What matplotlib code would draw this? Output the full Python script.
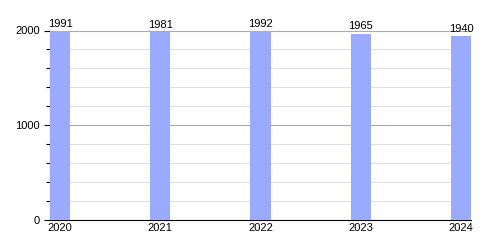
import matplotlib
matplotlib.use("Agg")
import matplotlib.pyplot as plt
from matplotlib.ticker import MultipleLocator

years = ["2020", "2021", "2022", "2023", "2024"]
values = [1991, 1981, 1992, 1965, 1940]

plt.rcParams['font.family'] = ['Liberation Sans', 'DejaVu Sans']
fig = plt.figure(figsize=(5, 2.5), dpi=100)
ax = fig.add_axes([0.1, 0.12, 0.842, 0.758])
x = list(range(len(years)))
ax.bar(x, values, width=0.2, color="#99aaff", zorder=3)
for xi, v in zip(x, values):
    ax.text(xi, v + 25, str(v), ha="center", va="bottom", fontsize=8, color="black")
ax.set_xlim(-0.1, 4.1)
ax.set_ylim(0, 2000)
ax.set_xticks(x)
ax.set_xticklabels(years, fontsize=8)
ax.yaxis.set_major_locator(MultipleLocator(1000))
ax.yaxis.set_minor_locator(MultipleLocator(200))
ax.tick_params(axis="y", which="major", length=4, labelsize=8, width=0.8)
ax.tick_params(axis="y", which="minor", length=3, width=0.8)
ax.tick_params(axis="x", length=0, labelsize=8, pad=2)
ax.grid(axis="y", which="minor", color="#e0e0e0", linewidth=0.8, zorder=0)
ax.grid(axis="y", which="major", color="#aaaaaa", linewidth=0.8, zorder=1)
for s in ["top", "right"]:
    ax.spines[s].set_visible(False)
ax.spines["left"].set_color("black")
ax.spines["bottom"].set_color("black")
fig.savefig("out.png", dpi=100)
